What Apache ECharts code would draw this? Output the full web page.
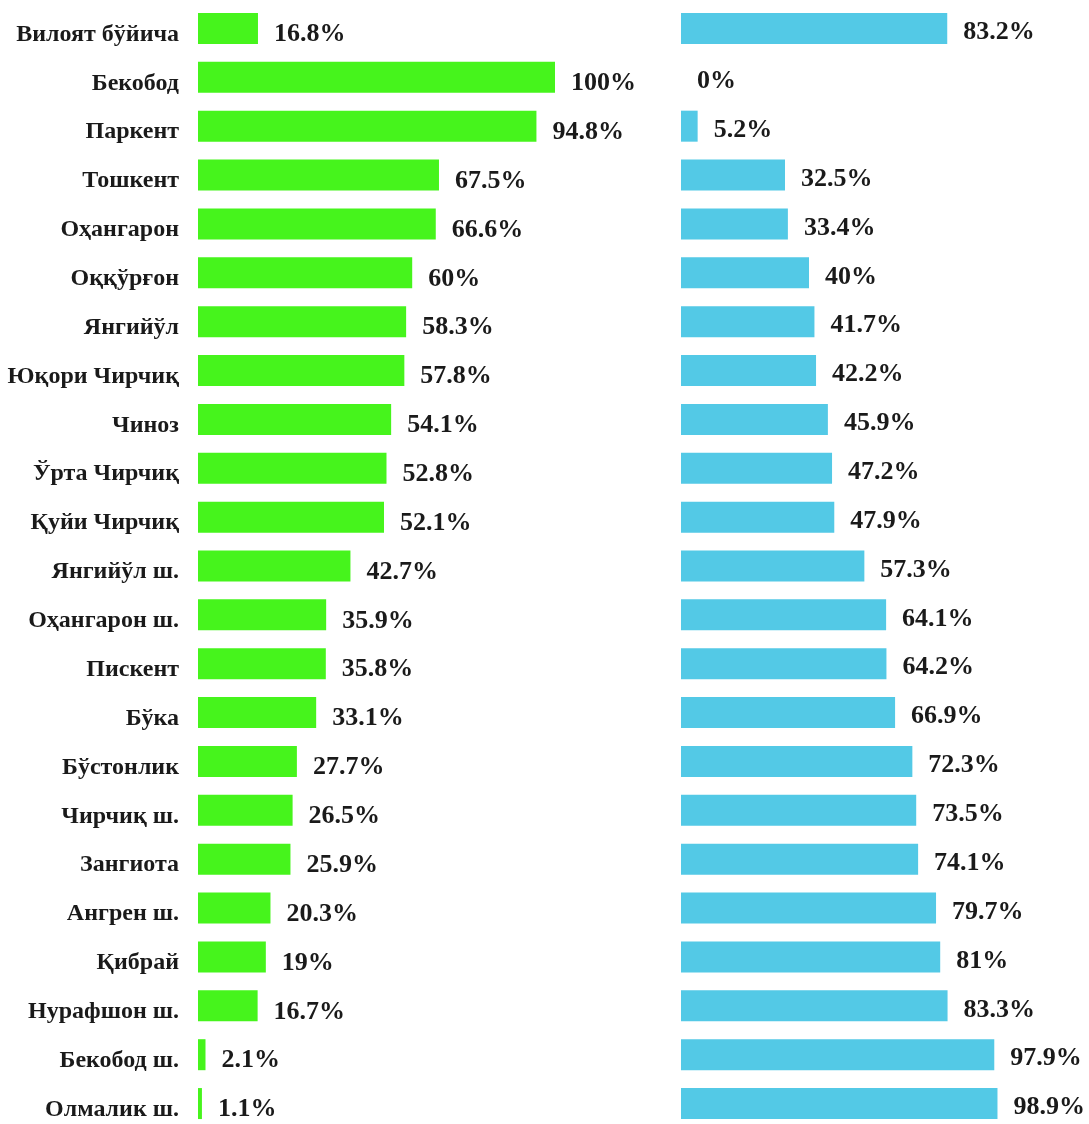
<!DOCTYPE html>
<html>
<head>
<meta charset="utf-8">
<script src="https://cdn.jsdelivr.net/npm/echarts@6/dist/echarts.min.js"></script>
<style>
    html, body { margin: 0; padding: 0; background: #fff; }
    #main-chart { width: 1089px; height: 1124px; }
</style>
</head>
<body>
<div id="main-chart"></div>
<script>
// hududlar
var categories = ['Вилоят бўйича', 'Бекобод', 'Паркент', 'Тошкент', 'Оҳангарон', 'Оққўрғон', 'Янгийўл',
    'Юқори Чирчиқ', 'Чиноз', 'Ўрта Чирчиқ', 'Қуйи Чирчиқ', 'Янгийўл ш.', 'Оҳангарон ш.', 'Пискент',
    'Бўка', 'Бўстонлик', 'Чирчиқ ш.', 'Зангиота', 'Ангрен ш.', 'Қибрай', 'Нурафшон ш.', 'Бекобод ш.', 'Олмалик ш.'];
var greenValues = [16.8, 100, 94.8, 67.5, 66.6, 60, 58.3, 57.8, 54.1, 52.8, 52.1, 42.7, 35.9, 35.8,
    33.1, 27.7, 26.5, 25.9, 20.3, 19, 16.7, 2.1, 1.1];
var blueValues = [83.2, 0, 5.2, 32.5, 33.4, 40, 41.7, 42.2, 45.9, 47.2, 47.9, 57.3, 64.1, 64.2,
    66.9, 72.3, 73.5, 74.1, 79.7, 81, 83.3, 97.9, 98.9];

var myChart = echarts.init(document.getElementById('main-chart'));
var font = '"Liberation Serif", "Times New Roman", serif';

function barLabel(dy) {
    return {
        show: true,
        position: 'right',
        distance: 16,
        offset: [0, dy],
        fontFamily: font,
        fontWeight: 'bold',
        fontSize: 26,
        color: '#1a1a1a',
        formatter: '{c}%'
    };
}

var option = {
    animation: false,
    grid: [
        {left: 198, width: 357, top: 4, height: 1124, outerBoundsMode: 'none', containLabel: false},
        {left: 681, width: 320, top: 4, height: 1124, outerBoundsMode: 'none', containLabel: false}
    ],
    xAxis: [
        {gridIndex: 0, type: 'value', min: 0, max: 100, show: false},
        {gridIndex: 1, type: 'value', min: 0, max: 100, show: false}
    ],
    yAxis: [
        {
            gridIndex: 0, type: 'category', inverse: true, data: categories,
            axisLine: {show: false}, axisTick: {show: false},
            axisLabel: {
                margin: 19, fontFamily: font, fontWeight: 'bold', fontSize: 24, color: '#1a1a1a',
                verticalAlign: 'top', lineHeight: 12
            }
        },
        {
            gridIndex: 1, type: 'category', inverse: true, data: categories,
            axisLine: {show: false}, axisTick: {show: false}, axisLabel: {show: false}
        }
    ],
    series: [
        {
            type: 'bar', xAxisIndex: 0, yAxisIndex: 0, data: greenValues,
            barWidth: 31,
            itemStyle: {color: '#46f41c'},
            label: barLabel(6)
        },
        {
            type: 'bar', xAxisIndex: 1, yAxisIndex: 1, data: blueValues,
            barWidth: 31,
            itemStyle: {color: '#53c9e6'},
            label: barLabel(4)
        }
    ]
};
myChart.setOption(option);
</script>
</body>
</html>
